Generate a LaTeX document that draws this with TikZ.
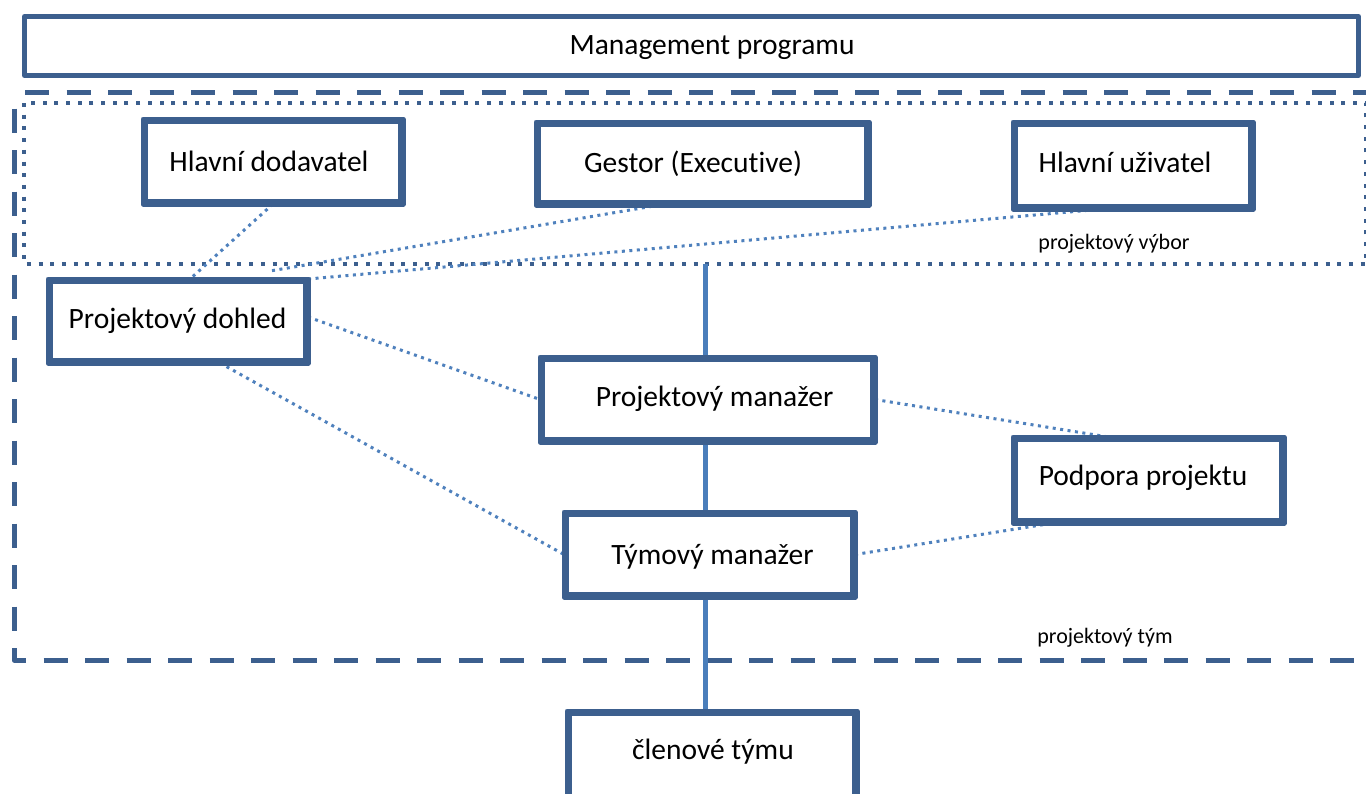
\documentclass[tikz,border=0pt]{standalone}
\usepackage{fontspec}
\setmainfont{Carlito}[Ligatures={NoCommon}]
\definecolor{boxblue}{HTML}{3C5F8E}
\definecolor{linkblue}{HTML}{4F81BD}
\definecolor{solidblue}{HTML}{4A7EBB}
\begin{document}
\begin{tikzpicture}[x=1pt,y=-1pt,
  box/.style={draw=boxblue, line width=5pt, line join=round, fill=white, rectangle, inner sep=0pt},
  plainlabel/.style={font=\fontsize{29.5}{34}\selectfont, text=black, inner sep=0pt},
  grouplabel/.style={font=\fontsize{22}{26}\selectfont, text=black, inner sep=0pt},
  dotlink/.style={draw=linkblue, line width=3pt, dash pattern=on 3pt off 4.5pt},
  solidlink/.style={draw=solidblue, line width=5pt},
  teamframe/.style={draw=boxblue, line width=5pt, line join=round, dash pattern=on 24pt off 17.5pt, dash phase=25pt},
  boardframe/.style={draw=boxblue, line width=4pt, dash pattern=on 4pt off 7.7pt},
]
\clip (0,0) rectangle (1366,793);
\fill[white] (0,0) rectangle (1366,793);

% group frames
\draw[teamframe, dash phase=0pt] (25,92) -- (1390,92);
\draw[teamframe] (14,92) -- (14,660) -- (1390,660);
\draw[boardframe] (24,103) rectangle (1366,264);
\node[grouplabel] (vyborlabel) at (1114,244) {projektový výbor};
\node[grouplabel] (tymlabel) at (1105,638) {projektový tým};

% boxes
\node[box, minimum width=1334pt, minimum height=59pt] (mgmt) at (691.5,46) {};
\node[box, minimum width=255pt, minimum height=80pt] (dodav) at (273,161.5) {};
\node[box, minimum width=328pt, minimum height=78pt] (gestor) at (702.5,163.5) {};
\node[box, minimum width=235pt, minimum height=82pt] (uziv) at (1133,165.5) {};
\node[box, minimum width=255pt, minimum height=79pt] (dohled) at (178,321) {};
\node[box, minimum width=330pt, minimum height=80pt] (pm) at (707.5,399.5) {};
\node[box, minimum width=266pt, minimum height=81pt] (podpora) at (1148.5,480) {};
\node[box, minimum width=286pt, minimum height=80pt] (tm) at (709.5,554.5) {};
\node[box, minimum width=285pt, minimum height=120pt] (clen) at (712,773.5) {};

% solid hierarchy line
\coordinate (vtop) at (705,264);
\draw[solidlink] (vtop) -- (vtop |- pm.north);
\draw[solidlink] (vtop |- pm.south) -- (vtop |- tm.north);
\draw[solidlink] (vtop |- tm.south) -- (vtop |- clen.north);

% dotted links
\coordinate (gestorend) at ([xshift=-38pt,yshift=8pt]dohled.north east);
\draw[dotlink] (dodav.south) -- ([xshift=12pt]dohled.north);
\draw[dotlink] ([xshift=-43pt]gestor.south) -- (gestorend);
\draw[dotlink] ([xshift=-30pt]uziv.south) -- (dohled.north east);
\draw[dotlink] ([yshift=4pt]dohled.east) -- (pm.west);
\draw[dotlink] ([xshift=42pt]dohled.south) -- (tm.west);
\draw[dotlink] (pm.east) -- ([xshift=-40pt]podpora.north);
\draw[dotlink] (tm.east) -- ([xshift=-95pt]podpora.south);

% redraw box outlines over link ends
\foreach \n in {dodav,gestor,uziv,dohled,pm,podpora,tm,clen}
  \draw[draw=boxblue, line width=5pt, line join=round] (\n.north west) rectangle (\n.south east);

% box texts
\node[plainlabel] (mgmtlabel) at (712,47.5) {Management programu};
\node[plainlabel] (dodavlabel) at (269,161.5) {Hlavní dodavatel};
\node[plainlabel] (gestorlabel) at (693,164) {Gestor (Executive)};
\node[plainlabel] (uzivlabel) at (1125,162) {Hlavní uživatel};
\node[plainlabel] (dohledlabel) at (177.5,321) {Projektový dohled};
\node[plainlabel] (pmlabel) at (714.5,399) {Projektový manažer};
\node[plainlabel] (podporalabel) at (1143,478) {Podpora projektu};
\node[plainlabel] (tmlabel) at (712.5,557) {Týmový manažer};
\node[plainlabel] (clenlabel) at (713,752) {členové týmu};
\end{tikzpicture}
\end{document}
